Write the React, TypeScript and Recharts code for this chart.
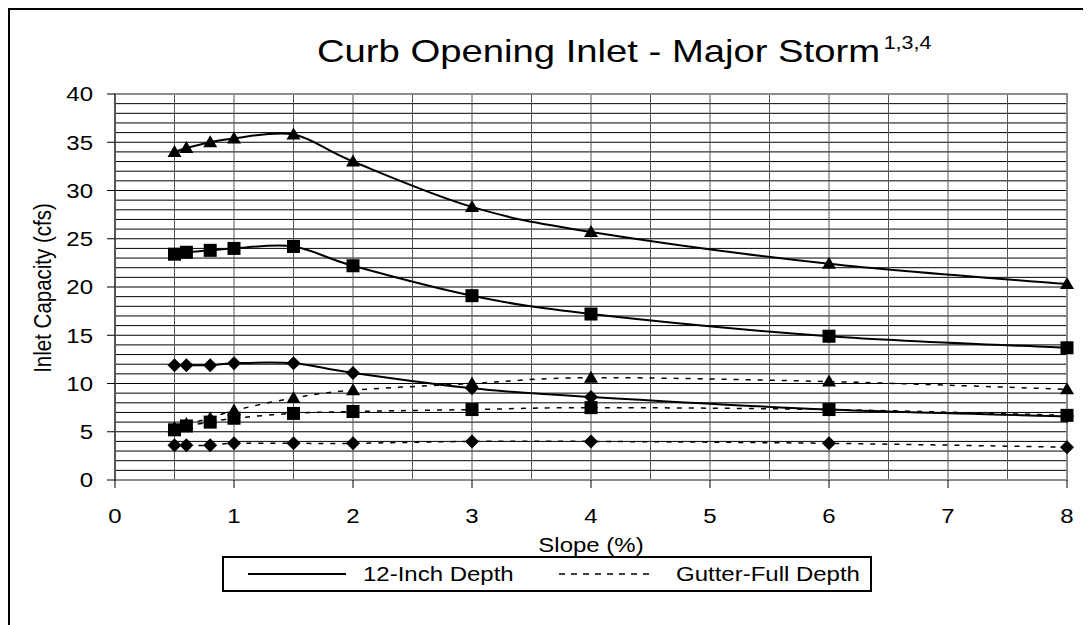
import React from 'react';
import { LineChart, Line, XAxis, YAxis, CartesianGrid, ReferenceArea } from 'recharts';

const slopes = [0.5, 0.6, 0.8, 1, 1.5, 2, 3, 4, 6, 8];
const inch12Triangle = [34.0, 34.4, 35.0, 35.4, 35.8, 33.0, 28.3, 25.7, 22.4, 20.3];
const inch12Square = [23.4, 23.6, 23.8, 24.0, 24.2, 22.2, 19.1, 17.2, 14.9, 13.7];
const inch12Diamond = [11.9, 11.9, 11.9, 12.1, 12.1, 11.1, 9.5, 8.6, 7.3, 6.6];
const gutterTriangle = [5.4, 5.8, 6.4, 7.2, 8.5, 9.3, 10.0, 10.6, 10.2, 9.4];
const gutterSquare = [5.2, 5.6, 6.0, 6.4, 6.9, 7.1, 7.3, 7.5, 7.3, 6.7];
const gutterDiamond = [3.6, 3.6, 3.6, 3.8, 3.8, 3.8, 4.0, 4.0, 3.8, 3.4];

const xTicks = [0, 1, 2, 3, 4, 5, 6, 7, 8];
const yTicks = [0, 5, 10, 15, 20, 25, 30, 35, 40];
const xGrid = [0, 0.5, 1, 1.5, 2, 2.5, 3, 3.5, 4, 4.5, 5, 5.5, 6, 6.5, 7, 7.5, 8];
const yGrid = Array.from({ length: 41 }, (_, i) => i);

const data = slopes.map((s, i) => ({
  slope: s,
  t12: inch12Triangle[i],
  s12: inch12Square[i],
  d12: inch12Diamond[i],
  tg: gutterTriangle[i],
  sg: gutterSquare[i],
  dg: gutterDiamond[i],
}));

const FONT = '"Liberation Sans", Arial, sans-serif';
const SX = 1.17; // horizontal stretch of the original artwork
const FS = 20.5;

// Catmull-Rom style smoothing (similar to Excel smoothed lines)
const smoothCurve = (context: any) => {
  let pts: number[][] = [];
  return {
    areaStart() {},
    areaEnd() {},
    lineStart() {
      pts = [];
    },
    point(x: number, y: number) {
      pts.push([+x, +y]);
    },
    lineEnd() {
      if (!pts.length) return;
      context.moveTo(pts[0][0], pts[0][1]);
      for (let i = 0; i < pts.length - 1; i++) {
        const p0 = pts[i - 1] || pts[i];
        const p1 = pts[i];
        const p2 = pts[i + 1];
        const p3 = pts[i + 2] || p2;
        context.bezierCurveTo(
          p1[0] + (p2[0] - p0[0]) / 6,
          p1[1] + (p2[1] - p0[1]) / 6,
          p2[0] - (p3[0] - p1[0]) / 6,
          p2[1] - (p3[1] - p1[1]) / 6,
          p2[0],
          p2[1]
        );
      }
    },
  };
};

const Triangle = (props: any) => {
  const { cx, cy } = props;
  if (cx == null || cy == null) return null;
  return <path d={`M${cx},${cy - 7}L${cx + 7},${cy + 5}L${cx - 7},${cy + 5}Z`} fill="#000" />;
};
const Square = (props: any) => {
  const { cx, cy } = props;
  if (cx == null || cy == null) return null;
  return <rect x={cx - 6.5} y={cy - 6.5} width={13} height={13} fill="#000" />;
};
const Diamond = (props: any) => {
  const { cx, cy } = props;
  if (cx == null || cy == null) return null;
  return <path d={`M${cx},${cy - 7}L${cx + 7},${cy}L${cx},${cy + 7}L${cx - 7},${cy}Z`} fill="#000" />;
};

const XTick = (props: any) => {
  const { x, y, payload } = props;
  return (
    <g transform={`translate(${x},${y}) scale(${SX},1)`}>
      <text x={0} y={0} dy={33} textAnchor="middle" fontSize={FS} fontFamily={FONT} fill="#000">
        {payload.value}
      </text>
    </g>
  );
};
const YTick = (props: any) => {
  const { x, y, payload } = props;
  return (
    <g transform={`translate(${x},${y}) scale(${SX},1)`}>
      <text x={0} y={0} dy={7.3} textAnchor="end" fontSize={FS} fontFamily={FONT} fill="#000">
        {payload.value}
      </text>
    </g>
  );
};

const legendText: React.CSSProperties = {
  position: 'absolute',
  top: '50%',
  transform: `translateY(-50%) scaleX(${SX})`,
  transformOrigin: 'left center',
  fontSize: FS,
  lineHeight: '24px',
  whiteSpace: 'nowrap',
};

export default function App() {
  const solid = { stroke: '#000', strokeWidth: 2, isAnimationActive: false, type: smoothCurve as any };
  const dashed = { stroke: '#000', strokeWidth: 1.5, strokeDasharray: '5 7', isAnimationActive: false, type: smoothCurve as any };
  return (
    <div style={{ position: 'relative', width: 1083, height: 617, overflow: 'hidden', fontFamily: FONT }}>
      <style>{'html,body{overflow:hidden}'}</style>
      <div
        style={{
          position: 'absolute',
          left: 0,
          top: 0,
          width: 1200,
          height: 800,
          borderTop: '2px solid #000',
          borderLeft: '2px solid #000',
        }}
      />
      <LineChart
        width={1083}
        height={617}
        data={data}
        margin={{ top: 86, right: 24, left: 45, bottom: 105 }}
        style={{ position: 'absolute', left: 0, top: 0 }}
      >
        <CartesianGrid horizontalValues={yGrid} vertical={false} stroke="#000" strokeWidth={1} fill="#fff" />
        <CartesianGrid horizontal={false} verticalValues={xGrid} stroke="#555" strokeWidth={1} />
        <ReferenceArea x1={0} x2={8} y1={0} y2={40} fill="none" stroke="#8c8c8c" strokeWidth={2} ifOverflow="visible" />
        <XAxis
          dataKey="slope"
          type="number"
          domain={[0, 8]}
          ticks={xTicks}
          interval={0}
          height={40}
          tickSize={8}
          tickMargin={2}
          axisLine={{ stroke: '#8c8c8c', strokeWidth: 2 }}
          tickLine={{ stroke: '#000' }}
          tick={<XTick />}
        />
        <YAxis
          type="number"
          domain={[0, 40]}
          ticks={yTicks}
          interval={0}
          width={62}
          tickSize={8}
          tickMargin={14}
          axisLine={{ stroke: '#555', strokeWidth: 2 }}
          tickLine={{ stroke: '#000' }}
          tick={<YTick />}
        />
        <Line dataKey="t12" {...solid} dot={<Triangle />} activeDot={false} />
        <Line dataKey="s12" {...solid} dot={<Square />} activeDot={false} />
        <Line dataKey="d12" {...solid} dot={<Diamond />} activeDot={false} />
        <Line dataKey="tg" {...dashed} dot={<Triangle />} activeDot={false} />
        <Line dataKey="sg" {...dashed} dot={<Square />} activeDot={false} />
        <Line dataKey="dg" {...dashed} dot={<Diamond />} activeDot={false} />
        <g transform="translate(309,54) scale(1.195,1)">
          <text x={0} y={0} textAnchor="start" fontSize={32} fontFamily={FONT} fill="#000">
            Curb Opening Inlet - Major Storm
            <tspan dx={3} dy={-13} fontSize={18}>1,3,4</tspan>
          </text>
        </g>
        <g transform={`translate(583,544) scale(${SX},1)`}>
          <text x={0} y={0} textAnchor="middle" fontSize={FS} fontFamily={FONT} fill="#000">
            Slope (%)
          </text>
        </g>
        <g transform={`translate(34,280) scale(${SX},1) rotate(-90)`}>
          <text x={0} y={0} dy={7.3} textAnchor="middle" fontSize={FS} fontFamily={FONT} fill="#000">
            Inlet Capacity (cfs)
          </text>
        </g>
      </LineChart>
      <div
        style={{
          position: 'absolute',
          left: 214,
          top: 548,
          width: 650,
          height: 36,
          border: '2px solid #000',
          boxSizing: 'border-box',
          color: '#000',
        }}
      >
        <svg width={98} height={10} style={{ position: 'absolute', left: 24, top: 11 }}>
          <line x1={0} y1={5} x2={98} y2={5} stroke="#000" strokeWidth={2} />
        </svg>
        <span style={{ ...legendText, left: 139 }}>12-Inch Depth</span>
        <svg width={96} height={10} style={{ position: 'absolute', left: 335, top: 11 }}>
          <line x1={0} y1={5} x2={96} y2={5} stroke="#000" strokeWidth={1.5} strokeDasharray="6 6" />
        </svg>
        <span style={{ ...legendText, left: 452 }}>Gutter-Full Depth</span>
      </div>
    </div>
  );
}
